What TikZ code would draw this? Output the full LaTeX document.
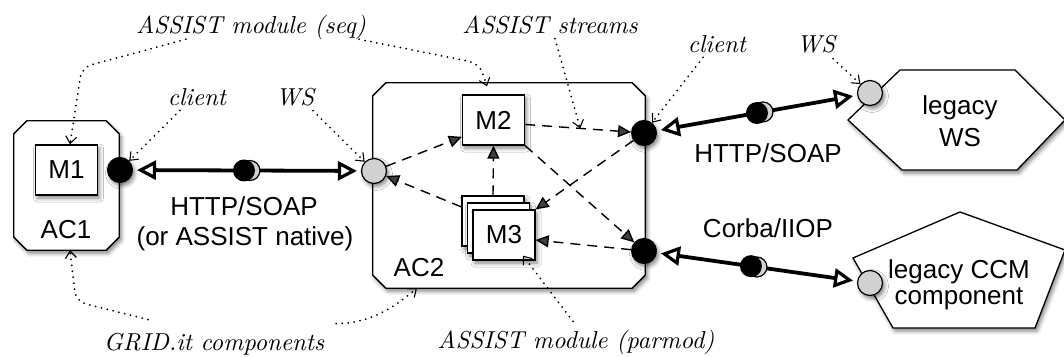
\documentclass[tikz,border=0pt]{standalone}
\usepackage{fontspec}
\newfontfamily\hv{Liberation Sans}
\newfontfamily\lmit{lmroman10-italic.otf}
\usetikzlibrary{arrows.meta,shadows.blur,calc}
\definecolor{lg}{gray}{0.82}
\newcommand{\chpath}[2]{([xshift=#2]#1.north west) -- ([xshift=-#2]#1.north east) -- ([yshift=-#2]#1.north east) -- ([yshift=#2]#1.south east) -- ([xshift=-#2]#1.south east) -- ([xshift=#2]#1.south west) -- ([yshift=#2]#1.south west) -- ([yshift=-#2]#1.north west) -- cycle}
\begin{document}
\begin{tikzpicture}[x=1pt,y=-1pt,
  lab/.style={font=\lmit\fontsize{24.5}{30}\selectfont, inner sep=0pt, anchor=base},
  sf/.style={font=\hv\fontsize{26}{30}\selectfont, inner sep=0pt},
  shd/.style={blur shadow={shadow xshift=2pt, shadow yshift=-3pt, shadow blur radius=4pt, shadow opacity=50}},
  comp/.style={rectangle, inner sep=0pt},
  chf/.style={draw, fill=white, line width=1.3pt, shd},
  mod/.style={rectangle, draw, fill=white, line width=1.3pt, minimum width=62pt, minimum height=50pt, inner sep=0pt, sf, shd},
  cli/.style={circle, draw, fill=black, line width=1pt, minimum size=25pt, inner sep=0pt, shd},
  srv/.style={circle, draw, fill=lg, line width=1.2pt, minimum size=25pt, inner sep=0pt, shd},
  dsh/.style={line width=1.4pt, dash pattern=on 10pt off 7pt, -{Triangle[length=13pt,width=12pt]}},
  dot/.style={line width=2pt, line cap=round, dash pattern=on 0pt off 6pt, -{Straight Barb[length=7pt,width=11pt,line width=1.1pt]}, rounded corners=10pt},
  thk/.style={line width=3.8pt, {Triangle[length=19pt,width=19pt,fill=white,line width=3.2pt]}-{Triangle[length=19pt,width=19pt,fill=white,line width=3.2pt]}, shorten <=4pt, shorten >=4pt},
  ball/.style={circle, fill=black, minimum size=22pt, inner sep=0pt},
  sock/.style={circle, draw, fill=lg, line width=1.2pt, minimum size=20pt, inner sep=0pt},
]
\useasboundingbox (0,0) rectangle (1064,356);

% components
\node[comp, minimum width=105pt, minimum height=129pt] (AC1) at (66.5,185.5) {};
\node[comp, minimum width=272pt, minimum height=205pt] (AC2) at (509,185.5) {};
\draw[chf] \chpath{AC1}{13pt};
\draw[chf] \chpath{AC2}{13pt};
\node[sf, anchor=base] (ac1l) at (66,238) {AC1};
\node[sf, anchor=base] (ac2l) at (419,276) {AC2};

% modules
\node[mod] (M1) at (66.5,170) {M1};
\node[mod] (M2) at (493.5,120) {M2};
\node[mod] (M3c) at (493,221) {};
\node[mod] (M3b) at (498.5,228) {};
\node[mod] (M3) at (504,235) {M3};

% legacy components
\draw[line width=1.3pt, fill=white, shd] (848,120) -- (900,70) -- (1015,70) -- (1065,120) -- (1017,170) -- (902,170) -- cycle;
\node[sf, align=center, font=\hv\fontsize{26}{32}\selectfont] (wsbox) at (960,121) {legacy\\WS};
\draw[line width=1.3pt, fill=white, shd] (960,212) -- (1065,250) -- (1035,328) -- (893,328) -- (853,258) -- cycle;
\node[sf, align=center, font=\hv\fontsize{26}{26}\selectfont] (ccmbox) at (959,285) {legacy CCM\\component};

% ports
\node[cli] (c1) at (120,170) {};
\node[srv] (ws1) at (374,171) {};
\node[cli] (c2) at (644,133) {};
\node[cli] (c3) at (644,251) {};
\node[srv] (ws3) at (870,93) {};
\node[srv] (ccm) at (870,283) {};

% streams
\draw[dsh] (ws1) -- (M2.208);
\draw[dsh] (M3c.156) -- (ws1);
\draw[dsh] (M3c.north) -- (M2.south);
\draw[dsh] (M2.352) -- coordinate[pos=0.52] (st) (c2);
\draw[dsh] (M2.south east) -- (c3);
\draw[dsh] (c2) -- (M3.north east);
\draw[dsh] (c3) -- (M3.351);

% bindings
\draw[thk] (c1) -- node[pos=0.513, sock]{} node[pos=0.487, ball]{} (ws1);
\draw[thk] (c2) -- node[pos=0.53, sock]{} node[pos=0.50, ball]{} (ws3);
\draw[thk] (c3) -- node[pos=0.50, sock]{} node[pos=0.47, ball]{} (ccm);

\node[sf, anchor=base] (http1) at (244,215) {HTTP/SOAP};
\node[sf, anchor=base] (native) at (245,245) {(or ASSIST native)};
\node[sf, anchor=base] (http2) at (768,162) {HTTP/SOAP};
\node[sf, anchor=base] (corba) at (768,237) {Corba/IIOP};

% annotations
\node[lab] (lab1) at (251,33) {ASSIST module (seq)};
\node[lab] (lab2) at (550,33) {ASSIST streams};
\node[lab] (lab3) at (197,105) {client};
\node[lab] (lab4) at (295,105) {WS};
\node[lab] (lab5) at (717,52) {client};
\node[lab] (lab6) at (816,52) {WS};
\node[lab] (lab7) at (214,350) {GRID.it components};
\node[lab] (lab8) at (576,348) {ASSIST module (parmod)};

\draw[dot] ([xshift=50pt]lab1.south west) -- ++(-104,28) -- ([xshift=3.5pt]M1.north);
\draw[dot] ([xshift=-7pt]lab1.south east) -- ++(120,24) -- ([xshift=-6.5pt,yshift=8pt]M2.north);
\draw[dot] ([xshift=5pt,yshift=-5pt]lab2.south) -- (st);
\draw[dot] ([xshift=-17pt,yshift=-5pt]lab3.south) -- (c1);
\draw[dot] ([xshift=18pt,yshift=-5pt]lab4.south) -- (ws1);
\draw[dot] ([xshift=-14pt,yshift=-5pt]lab5.south) -- (c2);
\draw[dot] ([xshift=17pt,yshift=-6pt]lab6.south) -- (ws3);
\draw[dot] ([xshift=-66pt,yshift=13pt]lab7.north) -- ++(-72,-18) -- ([xshift=3.5pt]AC1.south);
\draw[dot] ([xshift=12pt,yshift=9pt]lab7.north east) .. controls +(40,0) and +(-15,12) .. ([xshift=-92pt]AC2.south);
\draw[dot] ([xshift=-3pt,yshift=8pt]lab8.north) -- ([xshift=19pt,yshift=5pt]M3.south);
\end{tikzpicture}
\end{document}
